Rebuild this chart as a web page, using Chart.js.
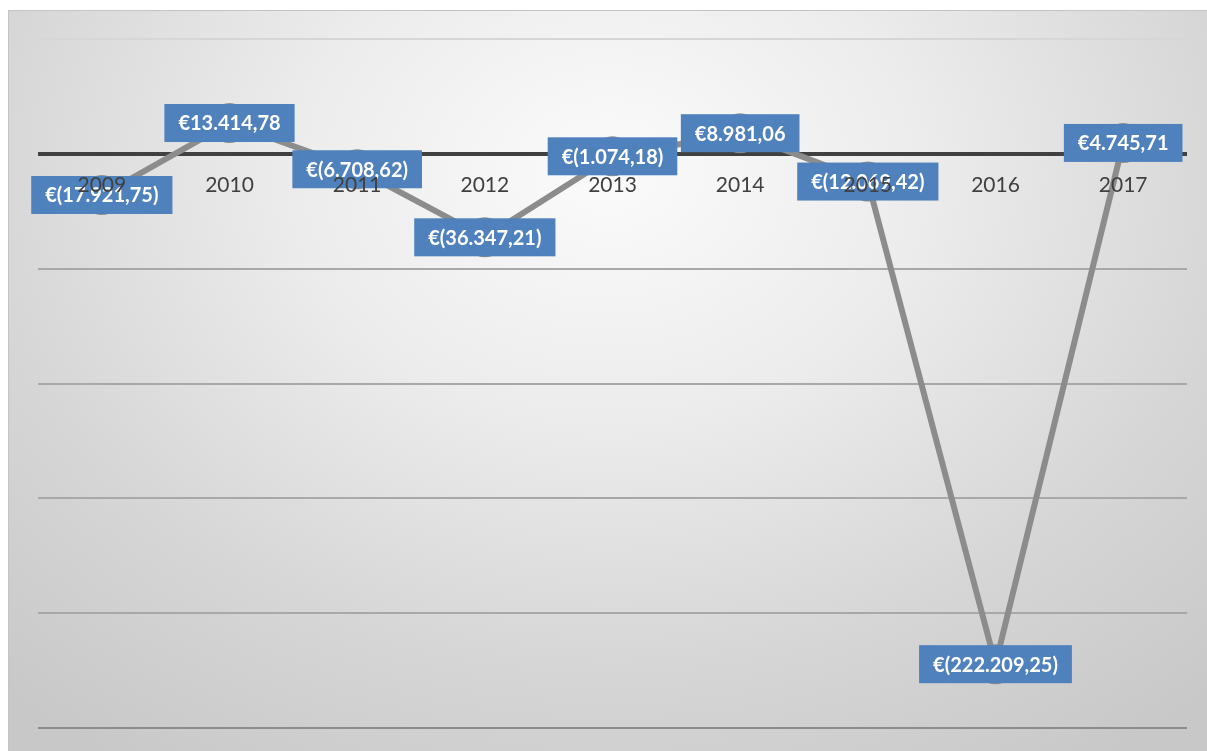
<!DOCTYPE html>
<html>
<head>
<meta charset="utf-8">
<script src="https://cdn.jsdelivr.net/npm/chart.js@4/dist/chart.umd.min.js"></script>
<style>
  html, body { margin: 0; padding: 0; background: #fff; overflow: hidden; }
  #box {
    position: absolute; left: 8px; top: 10px;
    width: 1198px; height: 740px;
    border: 1px solid #c4c4c4;
    background: radial-gradient(ellipse 75% 95% at 50% 22%, #fbfbfb 0%, #ececec 35%, #d6d6d6 70%, #c8c8c8 100%);
  }
  canvas { display: block; }
</style>
</head>
<body>
<div id="box"><canvas id="chart" width="1198" height="740"></canvas></div>
<script>
var years = ["2009", "2010", "2011", "2012", "2013", "2014", "2015", "2016", "2017"];
var results = [-17921.75, 13414.78, -6708.62, -36347.21, -1074.18, 8981.06, -12069.42, -222209.25, 4745.71];
var axisMin = -250000;
var axisMax = 50000;
var axisStep = 50000;

function euro(v) {
    var parts = Math.abs(v).toFixed(2).split(".");
    var intPart = parts[0].replace(/\B(?=(\d{3})+(?!\d))/g, ".");
    var body = intPart + "," + parts[1];
    return v < 0 ? "€(" + body + ")" : "€" + body;
}

var valueBoxes = {
    id: "valueBoxes",
    afterDatasetsDraw: function (chart) {
        var ctx = chart.ctx;
        var meta = chart.getDatasetMeta(0);
        ctx.save();
        ctx.font = "bold 20px Lato";
        ctx.textAlign = "center";
        ctx.textBaseline = "middle";
        meta.data.forEach(function (pt, i) {
            var text = euro(results[i]);
            var w = ctx.measureText(text).width + 28;
            var h = 38;
            ctx.fillStyle = "#4f81bd";
            ctx.fillRect(pt.x - w / 2, pt.y - h / 2, w, h);
            ctx.fillStyle = "#ffffff";
            ctx.fillText(text, pt.x, pt.y + 1);
        });
        ctx.restore();
    }
};

new Chart(document.getElementById("chart"), {
    type: "line",
    data: {
        labels: years,
        datasets: [{
            data: results,
            borderColor: "#8c8c8c",
            borderWidth: 6,
            pointRadius: 20,
            pointBackgroundColor: "#8c8c8c",
            pointBorderColor: "#8c8c8c",
            pointBorderWidth: 0,
            tension: 0,
        }],
    },
    options: {
        responsive: false,
        animation: false,
        devicePixelRatio: 1,
        layout: {
            padding: { left: 29, top: 28, right: 15, bottom: 23 },
        },
        plugins: {
            legend: { display: false },
            tooltip: { enabled: false },
        },
        scales: {
            x: {
                type: "category",
                offset: true,
                position: { y: 0 },
                grid: { display: false, drawTicks: true, tickLength: 19 },
                border: { display: false },
                afterFit: function (scale) {
                    scale.paddingLeft = 0;
                    scale.paddingRight = 0;
                },
                ticks: {
                    z: 1,
                    padding: 0,
                    color: "#404040",
                    font: { family: "Lato", size: 21 },
                    maxRotation: 0,
                },
            },
            y: {
                min: axisMin,
                max: axisMax,
                border: { display: false },
                grid: {
                    drawTicks: false,
                    lineWidth: function (c) { return c.tick && c.tick.value === 0 ? 4 : 2; },
                    color: function (c) {
                        if (!c.tick) return "#a6a6a6";
                        if (c.tick.value === 0) return "#404040";
                        if (c.tick.value === axisMax) return "#d6d6d6";
                        if (c.tick.value === axisMin) return "#8c8c8c";
                        return "#a8a8a8";
                    },
                },
                ticks: { display: false, stepSize: axisStep },
            },
        },
    },
    plugins: [valueBoxes],
});
</script>
</body>
</html>
